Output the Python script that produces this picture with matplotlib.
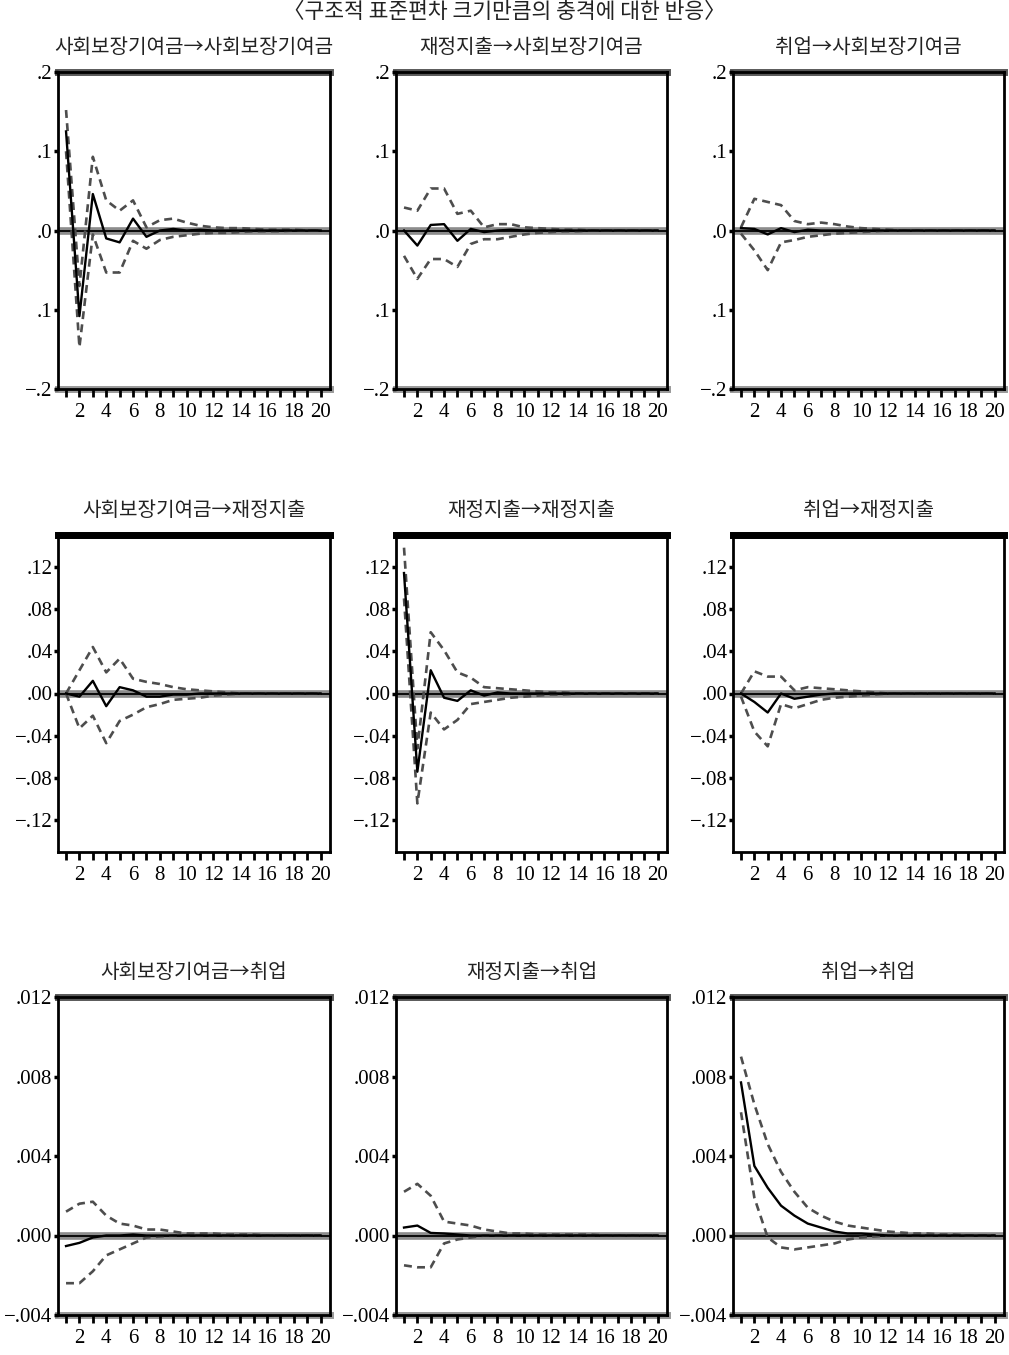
import matplotlib
matplotlib.use("Agg")
import matplotlib.pyplot as plt
import numpy as np

# periods of the impulse responses
periods = np.arange(1, 21)

# row 1: responses of 사회보장기여금
ss_ss_resp = [0.125, -0.108, 0.046, -0.010, -0.015, 0.015, -0.008, 0.0, 0.002, 0.0,
              0.001, 0.0, 0.0, 0.0, 0.0, 0.0, 0.0, 0.0, 0.0, 0.0]
ss_ss_up = [0.152, -0.070, 0.093, 0.038, 0.025, 0.038, 0.004, 0.013, 0.015, 0.010,
            0.006, 0.004, 0.003, 0.003, 0.002, 0.001, 0.001, 0.001, 0.0, 0.0]
ss_ss_lo = [0.100, -0.147, -0.005, -0.053, -0.053, -0.013, -0.023, -0.012, -0.008, -0.006,
            -0.004, -0.003, -0.003, -0.002, -0.001, -0.001, -0.001, 0.0, 0.0, 0.0]

fe_ss_resp = [0.0, -0.019, 0.007, 0.008, -0.013, 0.002, -0.002, 0.0, 0.001, 0.0,
              0.0, 0.0, 0.0, 0.0, 0.0, 0.0, 0.0, 0.0, 0.0, 0.0]
fe_ss_up = [0.029, 0.025, 0.053, 0.053, 0.021, 0.025, 0.004, 0.008, 0.008, 0.004,
            0.003, 0.002, 0.001, 0.001, 0.0, 0.0, 0.0, 0.0, 0.0, 0.0]
fe_ss_lo = [-0.032, -0.061, -0.036, -0.036, -0.046, -0.017, -0.011, -0.011, -0.008, -0.005,
            -0.003, -0.002, -0.001, -0.001, 0.0, 0.0, 0.0, 0.0, 0.0, 0.0]

em_ss_resp = [0.003, 0.002, -0.005, 0.003, -0.002, 0.001, 0.0, 0.0, 0.0, 0.0,
              0.0, 0.0, 0.0, 0.0, 0.0, 0.0, 0.0, 0.0, 0.0, 0.0]
em_ss_up = [0.004, 0.040, 0.036, 0.032, 0.012, 0.008, 0.010, 0.008, 0.005, 0.003,
            0.002, 0.001, 0.0, 0.0, 0.0, 0.0, 0.0, 0.0, 0.0, 0.0]
em_ss_lo = [-0.004, -0.025, -0.050, -0.015, -0.012, -0.008, -0.006, -0.004, -0.003, -0.002,
            -0.001, 0.0, 0.0, 0.0, 0.0, 0.0, 0.0, 0.0, 0.0, 0.0]

# row 2: responses of 재정지출
ss_fe_resp = [0.0, -0.003, 0.012, -0.012, 0.006, 0.003, -0.003, -0.003, -0.001, -0.001,
              0.0, 0.0, 0.0, 0.0, 0.0, 0.0, 0.0, 0.0, 0.0, 0.0]
ss_fe_up = [0.0, 0.022, 0.044, 0.020, 0.033, 0.014, 0.011, 0.009, 0.006, 0.004,
            0.003, 0.002, 0.001, 0.0, 0.0, 0.0, 0.0, 0.0, 0.0, 0.0]
ss_fe_lo = [0.0, -0.033, -0.021, -0.047, -0.026, -0.020, -0.013, -0.010, -0.006, -0.005,
            -0.004, -0.002, -0.001, 0.0, 0.0, 0.0, 0.0, 0.0, 0.0, 0.0]

fe_fe_resp = [0.114, -0.074, 0.022, -0.004, -0.007, 0.003, -0.002, 0.001, 0.0, 0.0,
              0.0, 0.0, 0.0, 0.0, 0.0, 0.0, 0.0, 0.0, 0.0, 0.0]
fe_fe_up = [0.138, -0.052, 0.058, 0.041, 0.020, 0.015, 0.006, 0.005, 0.004, 0.003,
            0.002, 0.001, 0.001, 0.0, 0.0, 0.0, 0.0, 0.0, 0.0, 0.0]
fe_fe_lo = [0.090, -0.104, -0.018, -0.034, -0.025, -0.010, -0.008, -0.006, -0.004, -0.003,
            -0.002, -0.001, -0.001, 0.0, 0.0, 0.0, 0.0, 0.0, 0.0, 0.0]

em_fe_resp = [0.0, -0.008, -0.018, 0.0, -0.005, -0.003, -0.001, 0.0, 0.0, 0.0,
              0.0, 0.0, 0.0, 0.0, 0.0, 0.0, 0.0, 0.0, 0.0, 0.0]
em_fe_up = [0.0, 0.021, 0.016, 0.016, 0.003, 0.006, 0.005, 0.004, 0.003, 0.002,
            0.001, 0.0, 0.0, 0.0, 0.0, 0.0, 0.0, 0.0, 0.0, 0.0]
em_fe_lo = [-0.003, -0.036, -0.050, -0.010, -0.014, -0.010, -0.006, -0.004, -0.003, -0.002,
            -0.001, 0.0, 0.0, 0.0, 0.0, 0.0, 0.0, 0.0, 0.0, 0.0]

# row 3: responses of 취업
ss_em_resp = [-0.00053, -0.00037, -0.0001, 0.0, 0.0, 0.00005, 0.0, 0.0, 0.0, 0.0,
              0.0, 0.0, 0.0, 0.0, 0.0, 0.0, 0.0, 0.0, 0.0, 0.0]
ss_em_up = [0.0012, 0.0016, 0.0017, 0.0010, 0.0006, 0.0005, 0.0003, 0.0003, 0.0002, 0.0001,
            0.0001, 0.0001, 0.00005, 0.00005, 0.00005, 0.0, 0.0, 0.0, 0.0, 0.0]
ss_em_lo = [-0.0024, -0.0024, -0.0018, -0.0010, -0.0007, -0.0004, -0.0001, -0.00005, 0.0, 0.0,
            0.0, 0.0, 0.0, 0.0, 0.0, 0.0, 0.0, 0.0, 0.0, 0.0]

fe_em_resp = [0.0004, 0.0005, 0.00013, 0.0001, 0.00005, 0.0, 0.0, 0.0, 0.0, 0.0,
              0.0, 0.0, 0.0, 0.0, 0.0, 0.0, 0.0, 0.0, 0.0, 0.0]
fe_em_up = [0.0022, 0.0026, 0.0020, 0.0007, 0.0006, 0.0005, 0.0003, 0.0002, 0.0001, 0.0001,
            0.00005, 0.00005, 0.00005, 0.00005, 0.00005, 0.0, 0.0, 0.0, 0.0, 0.0]
fe_em_lo = [-0.0015, -0.0016, -0.0016, -0.0004, -0.0002, -0.0001, 0.0, 0.0, 0.0, 0.0,
            0.0, 0.0, 0.0, 0.0, 0.0, 0.0, 0.0, 0.0, 0.0, 0.0]

em_em_resp = [0.0077, 0.0035, 0.0024, 0.0015, 0.0010, 0.0006, 0.0004, 0.0002, 0.0001, 0.0001,
              0.00005, 0.0, 0.0, 0.0, 0.0, 0.0, 0.0, 0.0, 0.0, 0.0]
em_em_up = [0.0090, 0.0066, 0.0046, 0.0032, 0.0022, 0.0014, 0.0010, 0.0007, 0.0005, 0.0004,
            0.0003, 0.0002, 0.00015, 0.0001, 0.0001, 0.00005, 0.00005, 0.0, 0.0, 0.0]
em_em_lo = [0.0062, 0.0019, -0.0001, -0.0006, -0.0007, -0.0006, -0.0005, -0.0004, -0.0002, -0.0001,
            -0.00005, 0.0, 0.0, 0.0, 0.0, 0.0, 0.0, 0.0, 0.0, 0.0]

titles = [
    ["사회보장기여금→사회보장기여금", "재정지출→사회보장기여금", "취업→사회보장기여금"],
    ["사회보장기여금→재정지출", "재정지출→재정지출", "취업→재정지출"],
    ["사회보장기여금→취업", "재정지출→취업", "취업→취업"],
]
main_title = "〈구조적 표준편차 크기만큼의 충격에 대한 반응〉"

series = [
    [(ss_ss_resp, ss_ss_up, ss_ss_lo), (fe_ss_resp, fe_ss_up, fe_ss_lo), (em_ss_resp, em_ss_up, em_ss_lo)],
    [(ss_fe_resp, ss_fe_up, ss_fe_lo), (fe_fe_resp, fe_fe_up, fe_fe_lo), (em_fe_resp, em_fe_up, em_fe_lo)],
    [(ss_em_resp, ss_em_up, ss_em_lo), (fe_em_resp, fe_em_up, fe_em_lo), (em_em_resp, em_em_up, em_em_lo)],
]

row_ylim = [(-0.2, 0.2), (-0.15, 0.15), (-0.004, 0.012)]
row_yticks = [[-0.2, -0.1, 0.0, 0.1, 0.2],
              [-0.12, -0.08, -0.04, 0.0, 0.04, 0.08, 0.12],
              [-0.004, 0.0, 0.004, 0.008, 0.012]]
row_ylabels = [["\u2212.2", ".1", ".0", ".1", ".2"],
               ["\u2212.12", "\u2212.08", "\u2212.04", ".00", ".04", ".08", ".12"],
               ["\u2212.004", ".000", ".004", ".008", ".012"]]
xtick_labels = [str(v) for v in range(2, 21, 2)]

W, H = 1009, 1355
fig = plt.figure(figsize=(W / 100, H / 100), dpi=100)

kor = ["Noto Sans CJK KR", "DejaVu Sans"]
num = ["Liberation Serif", "DejaVu Serif"]

col_px = [(58, 330), (396, 667), (733, 1004)]
row_px = [(72, 389), (535, 852), (997, 1315)]

fig.text(0.5, 1 - 12 / H, main_title, ha="center", va="center",
         fontsize=15.5, family=kor, color="#222222")

for r in range(3):
    for c in range(3):
        x0, x1 = col_px[c]
        y0, y1 = row_px[r]
        ax = fig.add_axes([x0 / W, 1 - y1 / H, (x1 - x0) / W, (y1 - y0) / H])
        resp, up, lo = series[r][c]
        lo_lim, hi_lim = row_ylim[r]

        ax.axhline(0, color="0.55", lw=5.5, zorder=1)
        ax.axhline(0, color="black", lw=1.3, zorder=2)
        ax.axhline(hi_lim, color="0.35", lw=5, zorder=1, clip_on=False)
        if r != 1:
            ax.axhline(lo_lim, color="0.6", lw=5, zorder=1, clip_on=False)

        ax.plot(periods, up, color="0.3", lw=1.9, ls=(0, (3, 2)), zorder=3)
        ax.plot(periods, lo, color="0.3", lw=1.9, ls=(0, (3, 2)), zorder=3)
        ax.plot(periods, resp, color="black", lw=1.7, zorder=4)

        ax.set_xlim(0.4, 20.7)
        ax.set_ylim(lo_lim, hi_lim)
        ax.set_xticks(range(1, 21), minor=True)
        ax.set_xticks(range(2, 21, 2))
        ax.set_xticklabels(xtick_labels)
        ax.set_yticks(row_yticks[r])
        ax.set_yticklabels(row_ylabels[r])
        ax.tick_params(axis="x", which="both", direction="out", length=6,
                       width=2, pad=4, labelsize=15)
        ax.tick_params(axis="y", direction="out", length=3, width=2.5,
                       pad=1, labelsize=15)
        for lab in ax.get_xticklabels() + ax.get_yticklabels():
            lab.set_family(num)
        for sp in ax.spines.values():
            sp.set_linewidth(2)
            sp.set_color("black")
        if r == 1:
            ax.spines["top"].set_linewidth(5)
        ax.set_title(titles[r][c], fontsize=14.5, family=kor, pad=14, color="#222222")

fig.savefig("out.png", dpi=100)
